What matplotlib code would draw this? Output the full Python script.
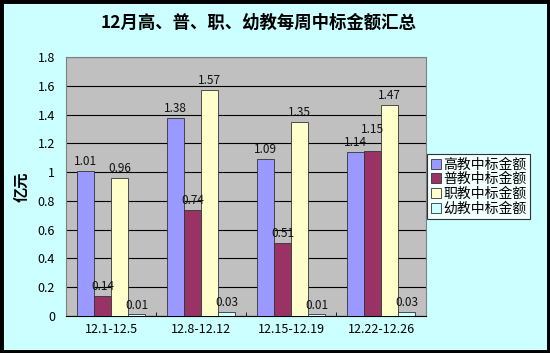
import matplotlib
matplotlib.use("Agg")
import matplotlib.pyplot as plt
import numpy as np
from matplotlib.patches import Rectangle

plt.rcParams['font.family'] = ['Noto Sans CJK SC', 'DejaVu Sans']

weeks = ["12.1-12.5", "12.8-12.12", "12.15-12.19", "12.22-12.26"]
series_names = ["高教中标金额", "普教中标金额", "职教中标金额", "幼教中标金额"]
gaojiao = [1.01, 1.38, 1.09, 1.14]
pujiao = [0.14, 0.74, 0.51, 1.15]
zhijiao = [0.96, 1.57, 1.35, 1.47]
youjiao = [0.01, 0.03, 0.01, 0.03]
colors = ["#9999FF", "#993366", "#FFFFCC", "#CCFFFF"]

fig = plt.figure(figsize=(5.5, 3.53), dpi=100, facecolor="#CCFFFF")
ax = fig.add_axes([0.12, 0.105, 0.655, 0.733])
ax.set_facecolor("#C0C0C0")

x = np.arange(len(weeks))
w = 0.19
all_series = [gaojiao, pujiao, zhijiao, youjiao]
for i, vals in enumerate(all_series):
    pos = x + (i - 1.5) * w
    ax.bar(pos, vals, width=w, color=colors[i], edgecolor="#333333",
           linewidth=0.6, label=series_names[i], zorder=3)
    for j, (p, v) in enumerate(zip(pos, vals)):
        dy = 0.02
        # the 1.15 label sits above its neighbour 1.14 in the original
        if i == 1 and j == 3:
            dy = 0.1
        ax.text(p, v + dy, "%.2f" % v, ha="center", va="bottom",
                fontsize=8.5, color="#111111", zorder=4)

ax.set_xlim(-0.5, 3.5)
ax.set_ylim(0, 1.8)
ax.set_yticks(np.arange(0, 1.81, 0.2))
ax.set_yticklabels(["0"] + ["%g" % v for v in np.arange(0.2, 1.81, 0.2)], fontsize=9)
ax.yaxis.grid(True, color="black", linewidth=0.8, zorder=0)
ax.set_xticks(x)
ax.set_xticklabels(weeks, fontsize=9)
ax.set_xticks(np.arange(-0.5, 3.6, 1), minor=True)
ax.tick_params(axis="x", which="major", length=0, pad=5)
ax.tick_params(axis="x", which="minor", length=3, direction="in")
ax.tick_params(axis="y", length=0, pad=8)
for s in ["top", "right"]:
    ax.spines[s].set_color("#808080")
ax.spines["left"].set_color("#808080")
ax.spines["bottom"].set_color("black")

ax.set_ylabel("亿元", fontsize=11, fontweight="bold", labelpad=6)

leg = ax.legend(loc="center left", bbox_to_anchor=(1.003, 0.5), fontsize=10,
                frameon=True, fancybox=False, handlelength=0.7, handleheight=0.7,
                handletextpad=0.2, borderpad=0.25, labelspacing=0.05, borderaxespad=0)
leg.get_frame().set_edgecolor("black")
leg.get_frame().set_linewidth(0.8)

fig.text(0.47, 0.935, "12月高、普、职、幼教每周中标金额汇总", ha="center", va="center",
         fontsize=12.5, fontweight="bold")

fig.patches.append(Rectangle((0, 0), 1, 1, transform=fig.transFigure, fill=False,
                             edgecolor="black", linewidth=5))

fig.savefig("out.png", dpi=100, facecolor=fig.get_facecolor())
